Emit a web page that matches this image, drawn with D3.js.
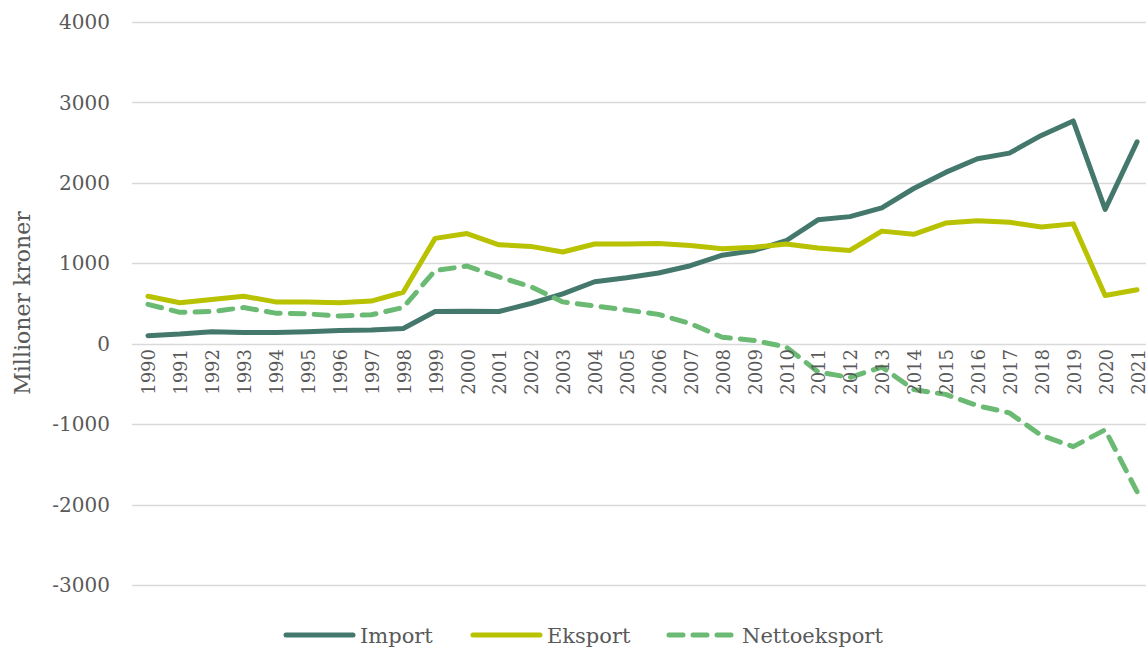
<!DOCTYPE html>
<html>
<head>
<meta charset="utf-8">
<script src="https://cdn.jsdelivr.net/npm/d3@7"></script>
<style>
  body { margin: 0; background: #fff; }
</style>
</head>
<body>
<div id="chart"></div>
<script>
// Data

var years = ["1990", "1991", "1992", "1993", "1994", "1995", "1996", "1997", "1998", "1999",
  "2000", "2001", "2002", "2003", "2004", "2005", "2006", "2007", "2008", "2009",
  "2010", "2011", "2012", "2013", "2014", "2015", "2016", "2017", "2018", "2019",
  "2020", "2021"];

var importValues = [100, 120, 150, 140, 140, 150, 165, 170, 190, 400,
  405, 400, 500, 620, 770, 820, 880, 970, 1100, 1160,
  1280, 1540, 1580, 1690, 1930, 2130, 2300, 2370, 2590, 2770,
  1670, 2510];

var eksportValues = [590, 510, 550, 590, 520, 520, 510, 530, 640, 1310,
  1370, 1230, 1210, 1140, 1240, 1240, 1245, 1220, 1180, 1200,
  1240, 1190, 1160, 1400, 1360, 1500, 1530, 1510, 1450, 1490,
  600, 670];

var nettoValues = [490, 390, 400, 450, 380, 370, 345, 360, 450, 910,
  965, 830, 710, 520, 470, 420, 365, 250, 80, 40,
  -40, -350, -420, -290, -570, -630, -770, -860, -1140, -1280,
  -1070, -1840];

var yTicks = [-3000, -2000, -1000, 0, 1000, 2000, 3000, 4000];

var series = [
  {name: "Import", values: importValues, color: "#44786c", dash: null},
  {name: "Eksport", values: eksportValues, color: "#b8c200", dash: null},
  {name: "Nettoeksport", values: nettoValues, color: "#6aba74", dash: "14,10"}
];

var width = 1146;
var height = 647;

var svg = d3.select("#chart").append("svg")
    .attr("width", width)
    .attr("height", height);

var x = d3.scalePoint()
    .domain(years)
    .range([132, 1153])
    .padding(0.5);

var y = d3.scaleLinear()
    .domain([-3000, 4000])
    .range([585, 22]);

// gridlines
svg.append("g").selectAll(".grid")
    .data(yTicks)
    .enter().append("line")
    .attr("class", "grid")
    .attr("x1", 132)
    .attr("x2", width)
    .attr("y1", function(d) { return Math.round(y(d)) + 0.5; })
    .attr("y2", function(d) { return Math.round(y(d)) + 0.5; })
    .attr("stroke", "#d9d9d9")
    .attr("stroke-width", 1.5);

// y tick labels
svg.append("g").selectAll(".ylab")
    .data(yTicks)
    .enter().append("text")
    .attr("x", 110)
    .attr("y", function(d) { return y(d); })
    .attr("dy", "0.36em")
    .attr("text-anchor", "end")
    .style("font-family", "'DejaVu Serif', serif")
    .style("font-size", "20px")
    .style("fill", "#595959")
    .text(function(d) { return d; });

// y axis title
svg.append("text")
    .attr("transform", "translate(30,303) rotate(-90)")
    .attr("text-anchor", "middle")
    .style("font-family", "'DejaVu Serif', serif")
    .style("font-size", "22px")
    .style("fill", "#595959")
    .text("Millioner kroner");

// lines
var line = d3.line()
    .x(function(d, i) { return x(years[i]); })
    .y(function(d) { return y(d); });

svg.append("g").selectAll(".series")
    .data(series)
    .enter().append("path")
    .attr("class", "series")
    .attr("d", function(d) { return line(d.values); })
    .attr("fill", "none")
    .attr("stroke", function(d) { return d.color; })
    .attr("stroke-width", 5)
    .attr("stroke-linejoin", "round")
    .attr("stroke-linecap", "round")
    .attr("stroke-dasharray", function(d) { return d.dash; });

// x tick labels, drawn over lines
svg.append("g").selectAll(".xlab")
    .data(years)
    .enter().append("text")
    .attr("transform", function(d) { return "translate(" + (x(d) + 1) + "," + 349 + ") rotate(-90)"; })
    .attr("dy", "0.36em")
    .attr("text-anchor", "end")
    .style("font-family", "'DejaVu Serif', serif")
    .style("font-size", "18px")
    .style("fill", "#595959")
    .text(function(d) { return d; });

// legend
var legendX = [283, 470, 666];
var legend = svg.append("g").selectAll(".legend")
    .data(series)
    .enter().append("g")
    .attr("class", "legend")
    .attr("transform", function(d, i) { return "translate(" + legendX[i] + ",635)"; });

legend.append("line")
    .attr("x1", 3)
    .attr("x2", function(d) { return d.dash ? 66 : 70; })
    .attr("y1", 0)
    .attr("y2", 0)
    .attr("stroke", function(d) { return d.color; })
    .attr("stroke-width", 5)
    .attr("stroke-linecap", "round")
    .attr("stroke-dasharray", function(d) { return d.dash; });

legend.append("text")
    .attr("x", function(d) { return d.dash ? 76 : 77; })
    .attr("y", 0)
    .attr("dy", "0.36em")
    .style("font-family", "'DejaVu Serif', serif")
    .style("font-size", "21px")
    .style("fill", "#595959")
    .text(function(d) { return d.name; });
</script>
</body>
</html>
